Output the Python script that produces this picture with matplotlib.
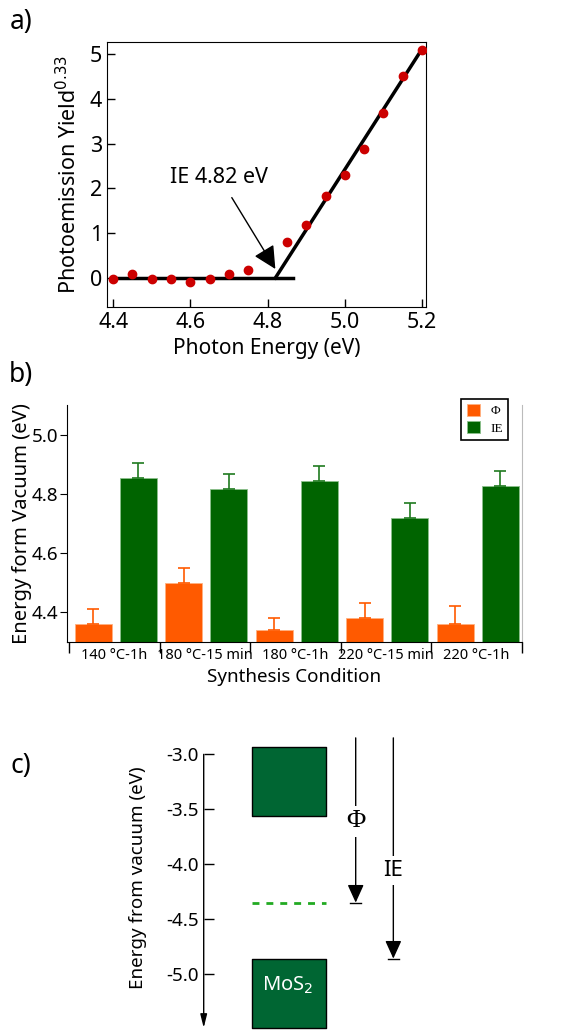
import matplotlib
matplotlib.use("Agg")
import matplotlib.pyplot as plt
import numpy as np

plt.rcParams['font.family'] = ['Noto Sans', 'DejaVu Sans']

# =====================================================
# DATA
# =====================================================

# panel a: photoemission yield
photon_energy = [4.40, 4.45, 4.50, 4.55, 4.60, 4.65, 4.70, 4.75,
                 4.85, 4.90, 4.95, 5.00, 5.05, 5.10, 5.15, 5.20]
yield_033 = [-0.03, 0.08, -0.03, -0.03, -0.10, -0.03, 0.08, 0.18,
             0.80, 1.18, 1.82, 2.29, 2.89, 3.68, 4.52, 5.09]
baseline_x = [4.40, 4.865]
baseline_y = [0.0, 0.0]
fit_x = [4.82, 5.195]
fit_y = [0.0, 5.05]
ie_value = 4.82

# panel b: work function / ionisation energy per condition
conditions = ["140 °C-1h", "180 °C-15 min", "180 °C-1h",
              "220 °C-15 min", "220 °C-1h"]
phi_vals = [4.36, 4.50, 4.34, 4.38, 4.36]
phi_err = [0.05, 0.05, 0.04, 0.05, 0.06]
ie_vals = [4.855, 4.817, 4.845, 4.72, 4.826]
ie_err = [0.05, 0.05, 0.05, 0.05, 0.05]

# panel c: band diagram
cb_bottom = -3.56
cb_top = -2.93
vb_top = -4.86
vb_bottom = -5.49
fermi_level = -4.35
vacuum_ref = -2.85
c_ticks = [-3.0, -3.5, -4.0, -4.5, -5.0]

ORANGE = "#FF5A00"
GREEN = "#006400"
BAND_GREEN = "#006633"

fig = plt.figure(figsize=(5.73, 10.3), dpi=100)

# =====================================================
# PANEL A
# =====================================================

ax1 = fig.add_axes([0.1867, 0.7019, 0.5567, 0.2573])
ax1.plot(photon_energy, yield_033, "o", color="#CC0000", markersize=6,
         zorder=3)
ax1.plot(baseline_x, baseline_y, color="black", lw=2.5)
ax1.plot(fit_x, fit_y, color="black", lw=2.5)
ax1.annotate("IE 4.82 eV", xy=(ie_value, 0.2), xytext=(4.675, 2.25),
             ha="center", va="center", fontsize=15.5,
             arrowprops=dict(arrowstyle="-|>,head_length=0.9,head_width=0.45",
                             lw=1, color="black", shrinkA=6, shrinkB=0))
ax1.set_xlim(4.384, 5.21)
ax1.set_ylim(-0.65, 5.27)
ax1.set_xticks([4.4, 4.6, 4.8, 5.0, 5.2])
ax1.set_xticklabels(["4.4", "4.6", "4.8", "5.0", "5.2"])
ax1.set_yticks([0, 1, 2, 3, 4, 5])
ax1.tick_params(direction="in", length=6, labelsize=15.5, width=1)
ax1.set_xlabel("Photon Energy (eV)", fontsize=15)
ax1.set_ylabel("Photoemission Yield$^{0.33}$", fontsize=15.5, labelpad=6)

# =====================================================
# PANEL B
# =====================================================

ax2 = fig.add_axes([0.1169, 0.3767, 0.7935, 0.2301])
x = np.arange(len(conditions))
ax2.bar(x + 0.264, phi_vals, width=0.41, color=ORANGE, edgecolor="#FFB080",
        lw=0.6, label="Φ")
ax2.bar(x + 0.764, ie_vals, width=0.41, color=GREEN, edgecolor="#8CC08C",
        lw=0.6, label="IE")
ax2.errorbar(x + 0.264, phi_vals, yerr=[np.zeros(5), phi_err], fmt="none",
             ecolor=ORANGE, capsize=4, elinewidth=1.2, capthick=1.2)
ax2.errorbar(x + 0.764, ie_vals, yerr=[np.zeros(5), ie_err], fmt="none",
             ecolor="#1F7A1F", capsize=4, elinewidth=1.2, capthick=1.2)
ax2.set_ylim(4.3, 5.1)
ax2.set_xlim(-0.025, 5.0)
ax2.set_yticks([4.4, 4.6, 4.8, 5.0])
ax2.set_yticklabels(["4.4", "4.6", "4.8", "5.0"])
ax2.set_xticks(np.arange(len(conditions) + 1))
ax2.set_xticklabels([])
ax2.set_xticks(x + 0.5, minor=True)
ax2.set_xticklabels(conditions, minor=True, fontsize=10.5)
ax2.tick_params(axis="x", which="major", direction="out", length=8, width=1)
ax2.tick_params(axis="x", which="minor", length=0, pad=4)
ax2.tick_params(axis="y", direction="out", length=5, labelsize=13.5, pad=1)
ax2.spines["top"].set_visible(False)
ax2.spines["right"].set_color("#BBBBBB")
ax2.set_xlabel("Synthesis Condition", fontsize=13.5)
ax2.set_ylabel("Energy form Vacuum (eV)", fontsize=14.5, labelpad=0)
leg = ax2.legend(loc="upper right", bbox_to_anchor=(0.985, 1.055),
                 prop={"family": "Liberation Serif", "size": 9.5},
                 fancybox=False, edgecolor="black", framealpha=1,
                 handlelength=1.0, handleheight=1.0, borderpad=0.4,
                 labelspacing=0.3, handletextpad=0.8)
leg.get_frame().set_linewidth(1.2)

# =====================================================
# PANEL C
# =====================================================

ax3 = fig.add_axes([0.3555, 0.00107, 0.587, 0.2932])
ax3.set_xlim(0, 1)
ax3.set_ylim(-5.5, -2.75)
for s in ax3.spines.values():
    s.set_visible(False)
ax3.set_xticks([])
ax3.set_yticks(c_ticks)
ax3.set_yticklabels(["-3.0", "-3.5", "-4.0", "-4.5", "-5.0"])
ax3.tick_params(axis="y", direction="in", length=7, labelsize=13.5, width=1)
ax3.set_ylabel("Energy from vacuum (eV)", fontsize=13.5, labelpad=14)
ax3.annotate("", xy=(0, -5.49), xytext=(0, -3.0),
             arrowprops=dict(arrowstyle="-|>,head_length=0.8,head_width=0.2",
                             lw=1, color="black", shrinkA=0, shrinkB=0))

ax3.fill_between([0.1427, 0.3637], cb_bottom, cb_top, color=BAND_GREEN,
                 edgecolor="black", lw=1)
ax3.fill_between([0.1427, 0.3637], vb_bottom, vb_top, color=BAND_GREEN,
                 edgecolor="black", lw=1, clip_on=False)
ax3.plot([0.1427, 0.3637], [fermi_level, fermi_level], color="#22AA22",
         lw=2, ls=(0, (2.5, 2.5)))
ax3.text(0.25, -5.10, "MoS$_2$", color="white", fontsize=14.5,
         ha="center", va="center", fontweight="bold")

for xpos, target, label, label_y, fam, fs in [
        (0.4519, fermi_level, "Φ", -3.61, "Liberation Serif", 19),
        (0.5638, vb_top, "IE", -4.06, "Noto Sans", 16)]:
    ax3.annotate("", xy=(xpos, target), xytext=(xpos, vacuum_ref),
                 arrowprops=dict(arrowstyle="-|>,head_length=1.1,head_width=0.5",
                                 lw=1, color="black", shrinkA=0, shrinkB=0))
    ax3.plot([xpos - 0.016, xpos + 0.016], [target, target], color="black",
             lw=1)
    ax3.text(xpos, label_y, label, ha="center", va="center", fontsize=fs,
             family=fam, bbox=dict(facecolor="white", edgecolor="none",
                                   pad=3))

fig.text(0.037, 0.979, "a)", fontsize=19, ha="center", va="center")
fig.text(0.037, 0.636, "b)", fontsize=19, ha="center", va="center")
fig.text(0.037, 0.256, "c)", fontsize=19, ha="center", va="center")

fig.savefig("out.png", dpi=100)
